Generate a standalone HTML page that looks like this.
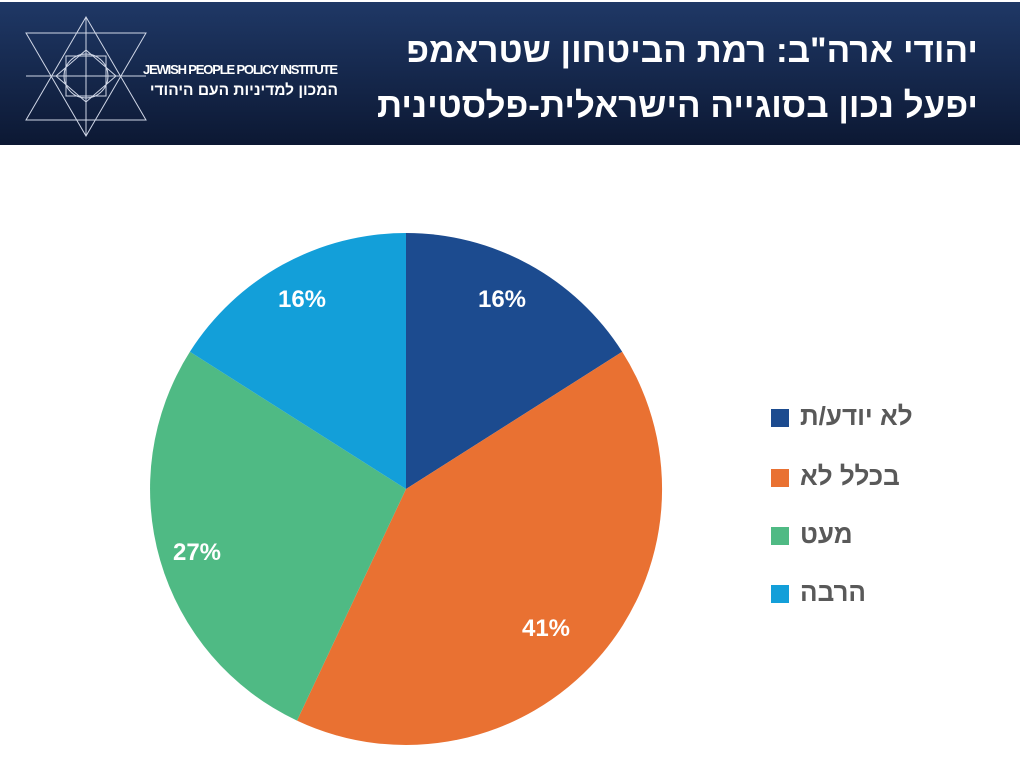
<!DOCTYPE html>
<html><head><meta charset="utf-8"><style>
body{margin:0;width:1024px;height:766px;background:#fff;position:relative;overflow:hidden;font-family:"Liberation Sans","Noto Sans CJK SC",sans-serif}
.hdr{position:absolute;left:0;top:2px;width:1020px;height:143px;background:linear-gradient(#1f3866,#0c1833);}
.t{position:absolute;right:42px;color:#fff;font-weight:bold;font-size:35px;direction:rtl;white-space:nowrap}
.lg{position:absolute;left:771px;width:18px;height:18px}
.lt{position:absolute;left:800px;font-size:26px;font-weight:bold;color:#595959;direction:rtl;white-space:nowrap}
</style></head><body>
<div class="hdr">
<svg width="340" height="143" style="position:absolute;left:0;top:0" stroke="#cfd6e6" stroke-width="1" fill="none">
<polygon points="86,15 146,118 26,118"/><polygon points="86,134 146,31 26,31"/>
<polygon points="86,48 116,74 86,100 56,74"/><rect x="66" y="54" width="40" height="40"/>
<circle cx="86" cy="74" r="22"/><line x1="86" y1="15" x2="86" y2="134"/><line x1="26" y1="74" x2="146" y2="74"/>
<text x="143" y="72" fill="#fff" stroke="none" font-family="Liberation Sans" font-size="13" font-weight="bold" textLength="195">JEWISH PEOPLE POLICY INSTITUTE</text>
<text x="338" y="93" fill="#fff" stroke="none" font-family="Liberation Sans,Noto Sans CJK SC" font-size="15.5" font-weight="bold" direction="rtl" text-anchor="start">המכון למדיניות העם היהודי</text>
</svg>
<div class="t" style="top:29px">יהודי ארה"ב: רמת הביטחון שטראמפ</div>
<div class="t" style="top:84px">יפעל נכון בסוגייה הישראלית-פלסטינית</div>
</div>
<svg width="1024" height="766" style="position:absolute;left:0;top:0">
<path d="M406,489 L406,233 A256,256 0 0 1 622.2,351.8 Z" fill="#1c4b8f"/>
<path d="M406,489 L622.2,351.8 A256,256 0 0 1 297,720.6 Z" fill="#e97132"/>
<path d="M406,489 L297,720.6 A256,256 0 0 1 189.9,351.8 Z" fill="#4fba84"/>
<path d="M406,489 L189.9,351.8 A256,256 0 0 1 406,233 Z" fill="#139fd9"/>
<g fill="#fff" font-family="Liberation Sans" font-weight="bold" font-size="24" text-anchor="middle">
<text x="502" y="307">16%</text><text x="302" y="307">16%</text>
<text x="197" y="560">27%</text><text x="546" y="636">41%</text></g>
</svg>
<div class="lg" style="top:409px;background:#1c4b8f"></div><div class="lt" style="top:401px">לא יודע/ת</div>
<div class="lg" style="top:469px;background:#e97132"></div><div class="lt" style="top:461px">בכלל לא</div>
<div class="lg" style="top:527px;background:#4fba84"></div><div class="lt" style="top:519px">מעט</div>
<div class="lg" style="top:585px;background:#139fd9"></div><div class="lt" style="top:577px">הרבה</div>
</body></html>
